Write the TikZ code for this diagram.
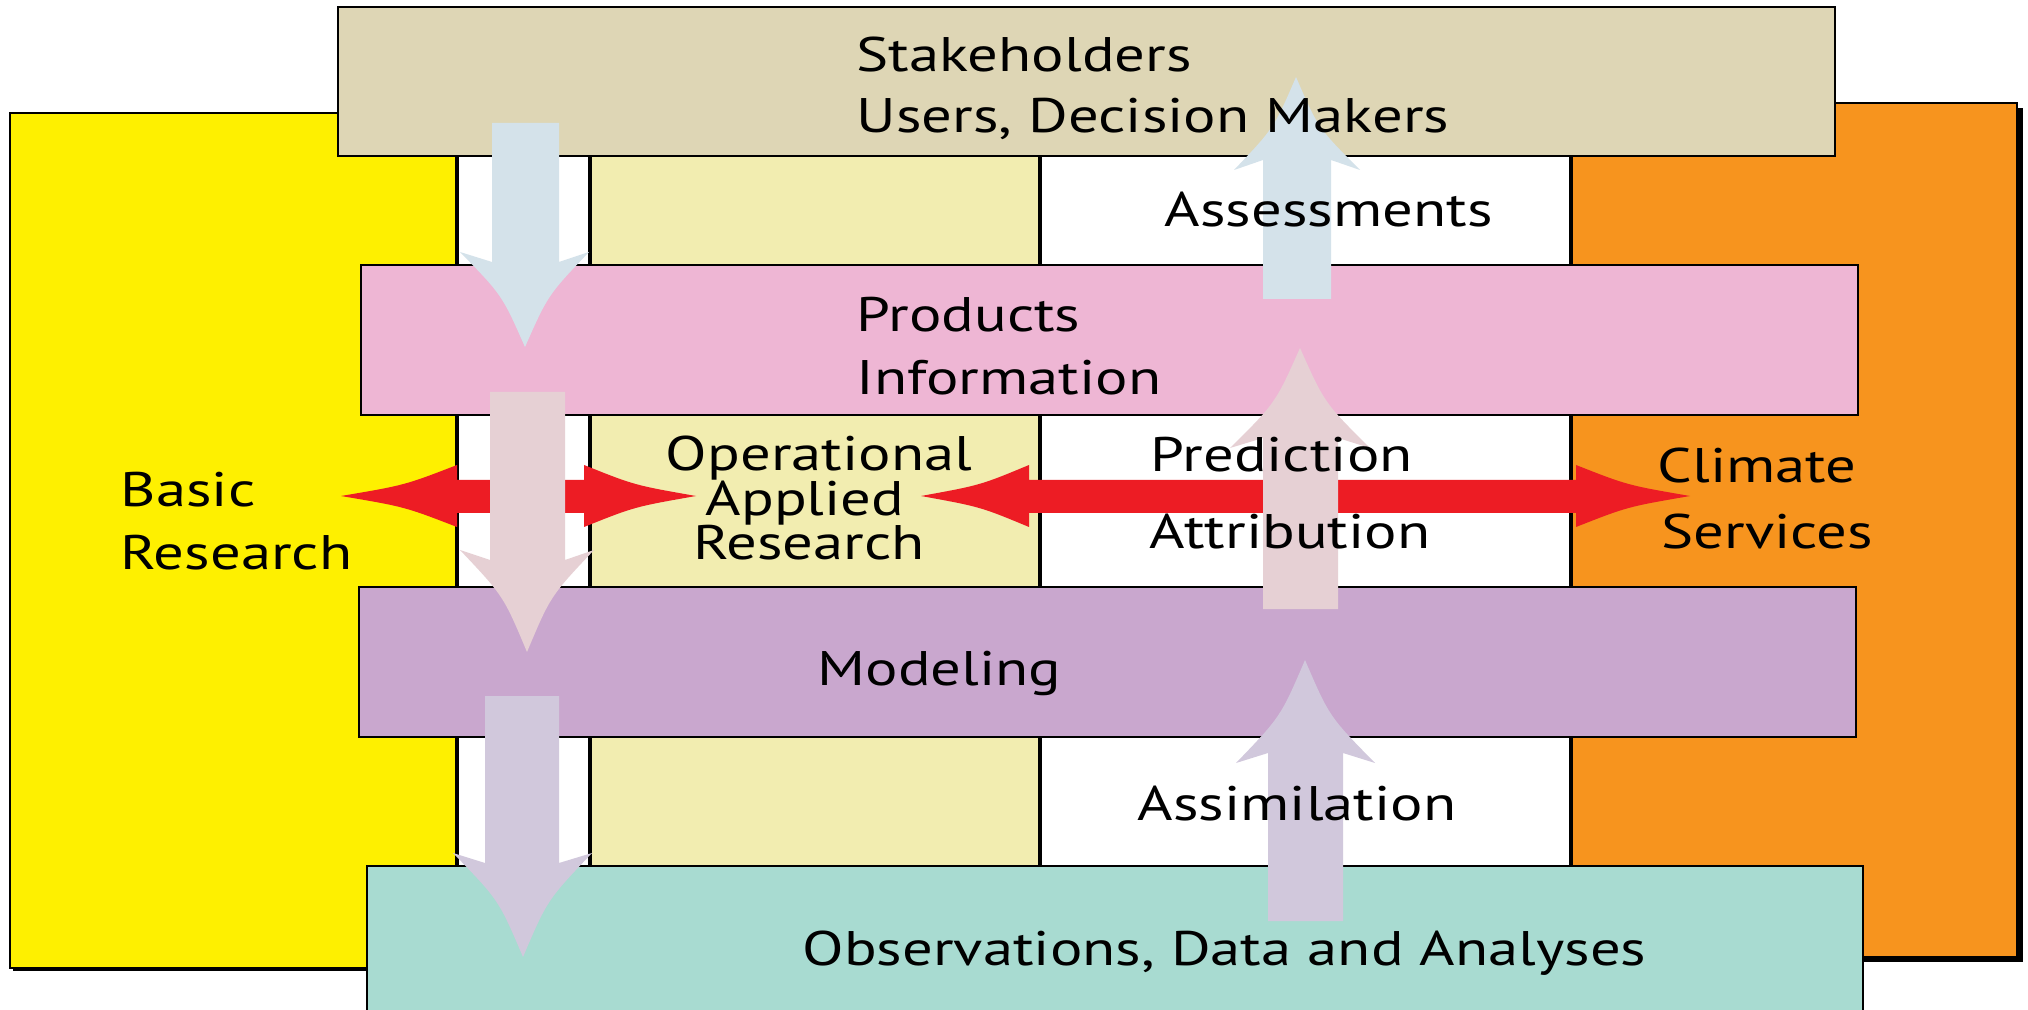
\documentclass[tikz,border=0pt]{standalone}
\usepackage{fontspec}
\setmainfont{PT Sans}[FakeStretch=1.25]
\definecolor{cYellow}{HTML}{FEF000}
\definecolor{cOrange}{HTML}{F7941E}
\definecolor{cPale}{HTML}{F2EDB0}
\definecolor{cStake}{HTML}{DED6B5}
\definecolor{cProd}{HTML}{EEB6D4}
\definecolor{cModel}{HTML}{C9A7CE}
\definecolor{cObs}{HTML}{A8DBD1}
\definecolor{cBlueA}{HTML}{D4E2EA}
\definecolor{cPinkA}{HTML}{E6D0D4}
\definecolor{cLavA}{HTML}{D1C8DC}
\definecolor{cRed}{HTML}{ED1C24}
\begin{document}
\begin{tikzpicture}[x=0.01cm,y=-0.01cm,
  lbl/.style={inner sep=0pt, font=\fontsize{13.8pt}{17pt}\selectfont},
  band/.style={draw=black, line width=0.7pt},
  colline/.style={draw=black, line width=0.9pt},
  shadowbox/.style={fill=black},
  blockarrow/.style={draw=none}]
\useasboundingbox (0,0) rectangle (2028,1010);
% side boxes
\fill[shadowbox] (13,116) rectangle (460,971);
\filldraw[fill=cYellow, draw=black, line width=0.6pt] (10,113) rectangle (457,968);
\fill[shadowbox] (1575,108) rectangle (2023,962);
\filldraw[fill=cOrange, draw=black, line width=0.6pt] (1571,103) rectangle (2017,957);
% columns
\fill[white] (457,140) rectangle (590,880);
\fill[cPale] (590,140) rectangle (1040,880);
\fill[white] (1040,140) rectangle (1571,880);
\draw[colline] (457,140) -- (457,880);
\draw[colline] (590,140) -- (590,880);
\draw[colline] (1040,140) -- (1040,880);
\draw[colline] (1571,140) -- (1571,880);
% bands
\filldraw[band, fill=cStake] (338,7) rectangle (1835,156);
\filldraw[band, fill=cProd] (361,265) rectangle (1858,415);
\filldraw[band, fill=cModel] (359,587) rectangle (1856,737);
\filldraw[band, fill=cObs] (367,866) rectangle (1863,1030);
% red double arrows
\fill[cRed] (341,496) .. controls (404.8,485.2) .. (457,465) -- (457,480) -- (584,480) -- (584,465)
  .. controls (634.4,485.2) .. (696,496) .. controls (634.4,506.8) .. (584,527) -- (584,513)
  -- (457,513) -- (457,527) .. controls (404.8,506.8) .. (341,496) -- cycle;
\fill[cRed] (921,496) .. controls (980.4,485.2) .. (1029,465) -- (1029,480) -- (1576,480) -- (1576,465)
  .. controls (1627.3,485.2) .. (1690,496) .. controls (1627.3,506.8) .. (1576,527) -- (1576,513)
  -- (1029,513) -- (1029,527) .. controls (980.4,506.8) .. (921,496) -- cycle;
% down arrows
\fill[cBlueA] (492,123) -- (492,262) -- (460,252) .. controls (502,295) .. (525,347)
  .. controls (548,295) .. (589,252) -- (559,262) -- (559,123) -- cycle;
\fill[cPinkA] (490,392) -- (490,560) -- (460,550) .. controls (503.5,596) .. (527,652)
  .. controls (550.5,596) .. (594,550) -- (565,560) -- (565,392) -- cycle;
\fill[cLavA] (485,696) -- (485,863) -- (453,853) .. controls (498.7,900) .. (523,957)
  .. controls (547.3,900) .. (592,853) -- (559,863) -- (559,696) -- cycle;
% up arrows
\fill[cBlueA] (1263,299) -- (1263,160) -- (1234,170) .. controls (1274,128) .. (1296,77)
  .. controls (1318,128) .. (1360,170) -- (1331,160) -- (1331,299) -- cycle;
\fill[cPinkA] (1263,609) -- (1263,438) -- (1230,448) .. controls (1275.5,403) .. (1300,348)
  .. controls (1324.5,403) .. (1370,448) -- (1338,438) -- (1338,609) -- cycle;
\fill[cLavA] (1268,921) -- (1268,753) -- (1236,763) .. controls (1280.7,716.6) .. (1305,660)
  .. controls (1329.3,716.6) .. (1375,763) -- (1343,753) -- (1343,921) -- cycle;
% labels
\node[lbl, anchor=base west] (stake) at (856,72) {Stakeholders};
\node[lbl, anchor=base west] (users) at (856,133) {Users, Decision Makers};
\node[lbl, anchor=base west] (assess) at (1164,227) {Assessments};
\node[lbl, anchor=base west] (prod) at (856,332) {Products};
\node[lbl, anchor=base west] (info) at (856,395) {Information};
\node[lbl, anchor=base] (oper) at (819,471) {Operational};
\node[lbl, anchor=base] (appl) at (805,515) {Applied};
\node[lbl, anchor=base] (resA) at (809,560) {Research};
\node[lbl, anchor=base west] (pred) at (1150,472) {Prediction};
\node[lbl, anchor=base west] (attr) at (1149,548) {Attribution};
\node[lbl, anchor=base west] (basic) at (120,507) {Basic};
\node[lbl, anchor=base west] (resB) at (120,570) {Research};
\node[lbl, anchor=base west] (clim) at (1657,483) {Climate};
\node[lbl, anchor=base west] (serv) at (1661,548) {Services};
\node[lbl, anchor=base west] (model) at (817,685) {Modeling};
\node[lbl, anchor=base west] (assim) at (1137,820) {Assimilation};
\node[lbl, anchor=base west] (obs) at (802,965) {Observations, Data and Analyses};
\end{tikzpicture}
\end{document}
